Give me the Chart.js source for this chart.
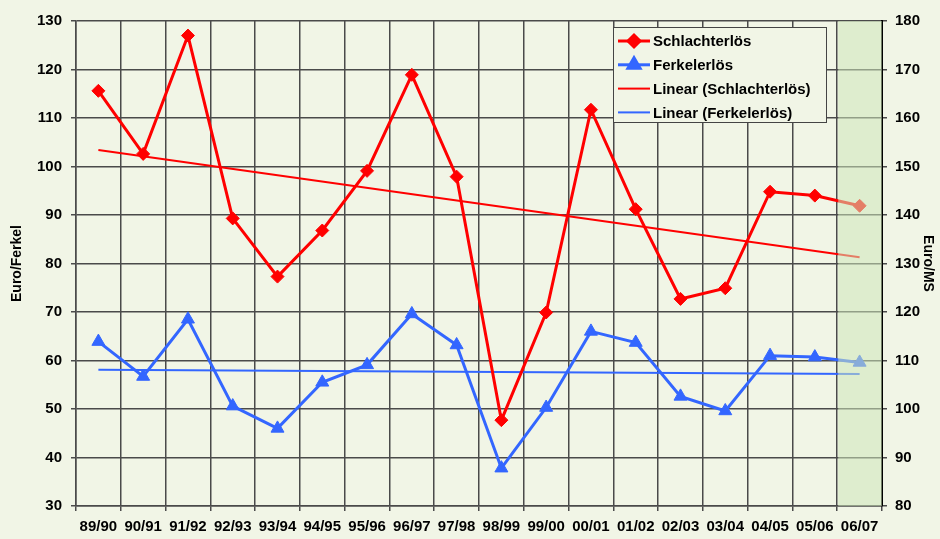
<!DOCTYPE html>
<html lang="de">
<head>
<meta charset="UTF-8">
<title>Schlachterlös / Ferkelerlös</title>
<style>
  body { margin: 0; background: #f1f5e6; }
  canvas { display: block; }
</style>
</head>
<body>
<canvas id="erloes" width="940" height="539"></canvas>

<script src="https://cdn.jsdelivr.net/npm/chart.js"></script>
<script>
  // Wirtschaftsjahre
  const labels = ['89/90', '90/91', '91/92', '92/93', '93/94', '94/95', '95/96', '96/97', '97/98',
                  '98/99', '99/00', '00/01', '01/02', '02/03', '03/04', '04/05', '05/06', '06/07'];

  // Euro/MS (rechte Achse)
  const schlachterloes = [165.6, 152.6, 177.0, 139.3, 127.3, 136.8, 149.1, 168.9, 147.9,
                          97.7, 119.9, 161.7, 141.2, 122.7, 124.9, 144.8, 144.0, 141.9];

  // Euro/Ferkel (linke Achse)
  const ferkelerloes = [63.9, 56.7, 68.5, 50.6, 46.0, 55.5, 59.1, 69.6, 63.2,
                        37.8, 50.3, 66.0, 63.7, 52.6, 49.6, 61.0, 60.7, 59.6];

  // Trendlinien: Anfangs- und Endwert
  const trendSchlachter = [153.4, null, null, null, null, null, null, null, null,
                           null, null, null, null, null, null, null, null, 131.3];
  const trendFerkel = [58.1, null, null, null, null, null, null, null, null,
                       null, null, null, null, null, null, null, null, 57.2];

  const RED = '#ff0000';
  const BLUE = '#3366ff';
  const GRID = '#4a4a4a';
  const FONT = { family: "'Liberation Sans', Arial, sans-serif", size: 15, weight: 'bold' };

  // letztes Jahr (Prognose) gruen hinterlegt
  const prognosePlugin = {
    id: 'prognose',
    afterDatasetsDraw(chart) {
      const { ctx, chartArea, scales } = chart;
      const x = scales.x;
      const last = labels.length - 1;
      const left = (x.getPixelForTick(last - 1) + x.getPixelForTick(last)) / 2;
      ctx.save();
      ctx.fillStyle = 'rgba(205, 230, 185, 0.55)';
      ctx.fillRect(left + 1, chartArea.top, chartArea.right - left - 1, chartArea.bottom - chartArea.top);
      ctx.restore();
    }
  };

  // Legende im Diagramm oben rechts
  const legendItems = [
    { text: 'Schlachterlös', color: RED, style: 'rectRot', r: 6, w: 3 },
    { text: 'Ferkelerlös', color: BLUE, style: 'triangle', r: 7, w: 3 },
    { text: 'Linear (Schlachterlös)', color: RED, style: null, r: 0, w: 2 },
    { text: 'Linear (Ferkelerlös)', color: BLUE, style: null, r: 0, w: 2 }
  ];

  const boxLegendPlugin = {
    id: 'boxLegend',
    afterDraw(chart) {
      const { ctx, chartArea } = chart;
      const boxW = 213, boxH = 95;
      const bx = chartArea.right - 56 - boxW;
      const by = chartArea.top + 6;
      ctx.save();
      ctx.fillStyle = '#f1f5e6';
      ctx.fillRect(bx, by, boxW, boxH);
      ctx.strokeStyle = '#444';
      ctx.lineWidth = 1;
      ctx.strokeRect(bx + 0.5, by + 0.5, boxW, boxH);
      ctx.font = 'bold 15px "Liberation Sans", Arial, sans-serif';
      ctx.textBaseline = 'middle';
      legendItems.forEach((it, i) => {
        const cy = by + 14 + i * 23.8;
        ctx.strokeStyle = it.color;
        ctx.lineWidth = it.w;
        ctx.beginPath();
        ctx.moveTo(bx + 5, cy);
        ctx.lineTo(bx + 37, cy);
        ctx.stroke();
        if (it.style) {
          Chart.helpers.drawPoint(ctx, { pointStyle: it.style, radius: it.r, borderWidth: 1 }, bx + 21, cy);
          ctx.fillStyle = it.color;
          ctx.fill();
        }
        ctx.fillStyle = '#000';
        ctx.fillText(it.text, bx + 40, cy + 1);
      });
      ctx.restore();
    }
  };

  const config = {
    type: 'line',
    data: {
      labels: labels,
      datasets: [
        {
          label: 'Schlachterlös',
          data: schlachterloes,
          yAxisID: 'y1',
          borderColor: RED,
          backgroundColor: RED,
          borderWidth: 3,
          pointStyle: 'rectRot',
          pointRadius: 6.5,
          pointBorderWidth: 1,
          tension: 0,
          order: 1
        },
        {
          label: 'Ferkelerlös',
          data: ferkelerloes,
          yAxisID: 'y',
          borderColor: BLUE,
          backgroundColor: BLUE,
          borderWidth: 3,
          pointStyle: 'triangle',
          pointRadius: 7.5,
          pointBorderWidth: 1,
          tension: 0,
          order: 2
        },
        {
          label: 'Linear (Schlachterlös)',
          data: trendSchlachter,
          yAxisID: 'y1',
          borderColor: RED,
          borderWidth: 2,
          pointRadius: 0,
          spanGaps: true,
          order: 3
        },
        {
          label: 'Linear (Ferkelerlös)',
          data: trendFerkel,
          yAxisID: 'y',
          borderColor: BLUE,
          borderWidth: 2,
          pointRadius: 0,
          spanGaps: true,
          order: 4
        }
      ]
    },
    options: {
      responsive: false,
      animation: false,
      layout: { padding: { top: 21, right: 0, left: 0, bottom: 0 } },
      plugins: {
        legend: { display: false },
        tooltip: { enabled: false }
      },
      scales: {
        x: {
          offset: true,
          grid: { offset: true, color: GRID, lineWidth: 1.5, tickLength: 5 },
          border: { color: GRID, width: 1.5 },
          ticks: { color: '#000', font: FONT, maxRotation: 0, autoSkip: false, padding: 7 },
          afterFit(s) { s.height = 33; }
        },
        y: {
          position: 'left',
          min: 30,
          max: 130,
          ticks: { stepSize: 10, color: '#000', font: FONT, padding: 9 },
          grid: { color: GRID, lineWidth: 1.5, tickLength: 5 },
          border: { color: GRID, width: 1.5 },
          title: {
            display: true,
            text: 'Euro/Ferkel',
            color: '#000',
            font: { family: FONT.family, size: 14, weight: 'bold' },
            padding: { top: 9, bottom: 0 }
          },
          afterFit(s) { s.width = 76; }
        },
        y1: {
          position: 'right',
          min: 80,
          max: 180,
          ticks: { stepSize: 10, color: '#000', font: FONT, padding: 8 },
          grid: { drawOnChartArea: false, color: GRID, lineWidth: 1.5, tickLength: 5 },
          border: { color: '#000', width: 2 },
          title: {
            display: true,
            text: 'Euro/MS',
            color: '#000',
            font: { family: FONT.family, size: 14, weight: 'bold' },
            padding: { top: 4, bottom: 0 }
          },
          afterFit(s) { s.width = 58; }
        }
      }
    },
    plugins: [prognosePlugin, boxLegendPlugin]
  };

  const chart = new Chart(document.getElementById('erloes'), config);
</script>
</body>
</html>
